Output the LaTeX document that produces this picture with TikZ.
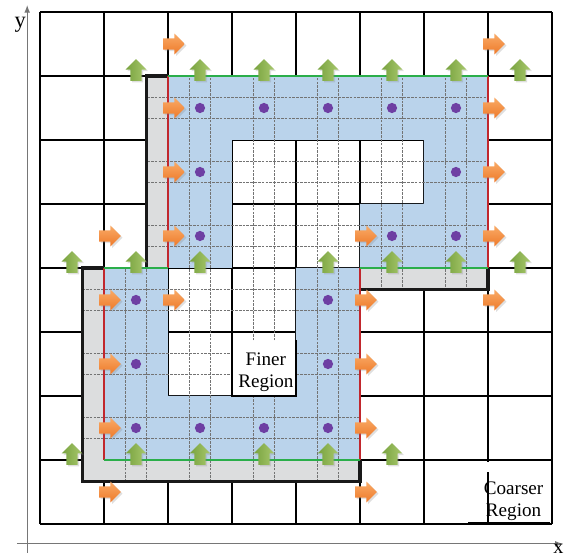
\documentclass[tikz,border=0pt]{standalone}
\usepackage{fontspec}
\setmainfont{Liberation Serif}
\usetikzlibrary{arrows.meta,shapes.arrows,shadows}
\definecolor{cellblue}{HTML}{BAD3EB}
\definecolor{ghostgray}{HTML}{DCDDDE}
\definecolor{cfred}{HTML}{C1272D}
\definecolor{cfgreen}{HTML}{2BAE4A}
\definecolor{dotpurple}{HTML}{6E3FA3}
\definecolor{fluxorange}{HTML}{EE7A2A}
\definecolor{fluxorangelt}{HTML}{F9AA66}
\definecolor{fluxgreen}{HTML}{78A23F}
\definecolor{fluxgreenlt}{HTML}{A8C86C}
\definecolor{axisgray}{HTML}{767676}
\tikzset{
    coarse/.style={black,line width=0.5pt},
    fine/.style={black!55,line width=0.7pt,dash pattern=on 1.2pt off 0.5pt},
    rim/.style={black!90,line width=1.4pt},
    xface/.style={cfred,line width=1.2pt},
    yface/.style={cfgreen,line width=1.3pt},
    axis/.style={axisgray,line width=0.5pt,-{Latex[length=1.2mm,width=0.9mm]}},
    flux/.style={single arrow,draw=none,inner sep=0pt,text height=0.8mm,text depth=0.8mm,
        minimum height=3.4mm,single arrow head extend=0.75mm,
        drop shadow={shadow xshift=0.25mm,shadow yshift=-0.25mm,opacity=0.25}},
    xflux/.style={flux,top color=fluxorangelt,bottom color=fluxorange},
    yflux/.style={flux,rotate=90,right color=fluxgreenlt,left color=fluxgreen},
    cdot/.style={circle,fill=dotpurple,inner sep=0pt,minimum size=1.6mm},
    regionlabel/.style={align=center,inner sep=0pt,font=\fontsize{8.5}{9.7}\selectfont},
    axislabel/.style={inner sep=0pt,font=\fontsize{10}{12}\selectfont}
}
\begin{document}
\begin{tikzpicture}
\useasboundingbox (-0.625,-0.484) rectangle (8.219,8.1875);
\draw[axis] (-0.36,-0.31) -- (8.17,-0.31);
\draw[axis] (-0.2,-0.45) -- (-0.2,8.11);
\node[axislabel] (ylabel) at (-0.31,7.8) {y};
\node[axislabel,font=\fontsize{9}{11}\selectfont] (xlabel) at (8.1,-0.39) {x};

\draw[coarse] (0,0) grid (8,8);

\fill[ghostgray] (5/3,4) rectangle (2,7);
\fill[ghostgray] (5,11/3) rectangle (7,4);
\fill[ghostgray] (2/3,2/3) rectangle (1,4);
\fill[ghostgray] (2/3,2/3) rectangle (5,1);
\fill[cellblue] (2,4) -- (3,4) -- (3,6) -- (6,6) -- (6,5) -- (5,5) -- (5,4) -- (7,4) -- (7,7) -- (2,7) -- cycle;
\fill[cellblue] (1,1) -- (5,1) -- (5,4) -- (4,4) -- (4,2) -- (2,2) -- (2,4) -- (1,4) -- cycle;

\begin{scope}
\clip (2/3,2/3) -- (5,2/3) -- (5,11/3) -- (7,11/3) -- (7,7) -- (5/3,7) -- (5/3,4) -- (2/3,4) -- cycle;
\foreach \k in {2,4,5,7,8,10,11,13,14,16,17,19,20} {
    \draw[fine] (\k/3,0) -- (\k/3,8);
    \draw[fine] (0,\k/3) -- (8,\k/3);
}
\end{scope}

\fill[white] (3,2) rectangle (4,2.85);
\draw[black,line width=0.8pt] (3,2.88) -- (3,2) -- (4,2) -- (4,2.88);
\node[regionlabel] (finer) at (3.53,2.37) {Finer\\Region};

\fill[white] (6.95,0.02) rectangle (7.94,0.97);
\draw[black,line width=0.8pt] (7,0.81) -- (7,0);
\draw[black,line width=0.8pt] (6.69,0.01) -- (7.97,0.01);
\node[regionlabel] (coarser) at (7.4,0.36) {Coarser\\Region};

\draw[rim] (2,7) -- (5/3,7) -- (5/3,4);
\draw[rim] (7,4) -- (7,11/3) -- (5,11/3);
\draw[rim] (1,4) -- (2/3,4) -- (2/3,2/3) -- (5,2/3) -- (5,1);
\draw[xface] (2,4) -- (2,7);
\draw[xface] (7,4) -- (7,7);
\draw[xface] (1,1) -- (1,4);
\draw[xface] (5,1) -- (5,4);
\draw[yface] (2,7) -- (7,7);
\draw[yface] (1,4) -- (2,4);
\draw[yface] (5,4) -- (7,4);
\draw[yface] (1,1) -- (5,1);

\foreach \u/\v [count=\i] in {2.5/6.5,3.5/6.5,4.5/6.5,5.5/6.5,6.5/6.5,2.5/5.5,6.5/5.5,
    2.5/4.5,5.5/4.5,6.5/4.5,1.5/3.5,4.5/3.5,1.5/2.5,4.5/2.5,
    1.5/1.5,2.5/1.5,3.5/1.5,4.5/1.5}
    \node[cdot] (dot\i) at (\u,\v) {};

\foreach \u/\v [count=\i] in {2/7.5,7/7.5,2/6.5,7/6.5,2/5.5,7/5.5,
    1/4.5,2/4.5,5/4.5,7/4.5,1/3.5,2/3.5,5/3.5,7/3.5,
    1/2.5,5/2.5,1/1.5,5/1.5,1/0.5,5/0.5}
    \node[xflux] (fx\i) at (\u+0.05,\v) {};

\foreach \u/\v [count=\i] in {1.5/7,2.5/7,3.5/7,4.5/7,5.5/7,6.5/7,7.5/7,
    0.5/4,1.5/4,2.5/4,4.5/4,5.5/4,6.5/4,7.5/4,
    0.5/1,1.5/1,2.5/1,3.5/1,4.5/1,5.5/1}
    \node[yflux] (fy\i) at (\u,\v+0.05) {};
\end{tikzpicture}
\end{document}
